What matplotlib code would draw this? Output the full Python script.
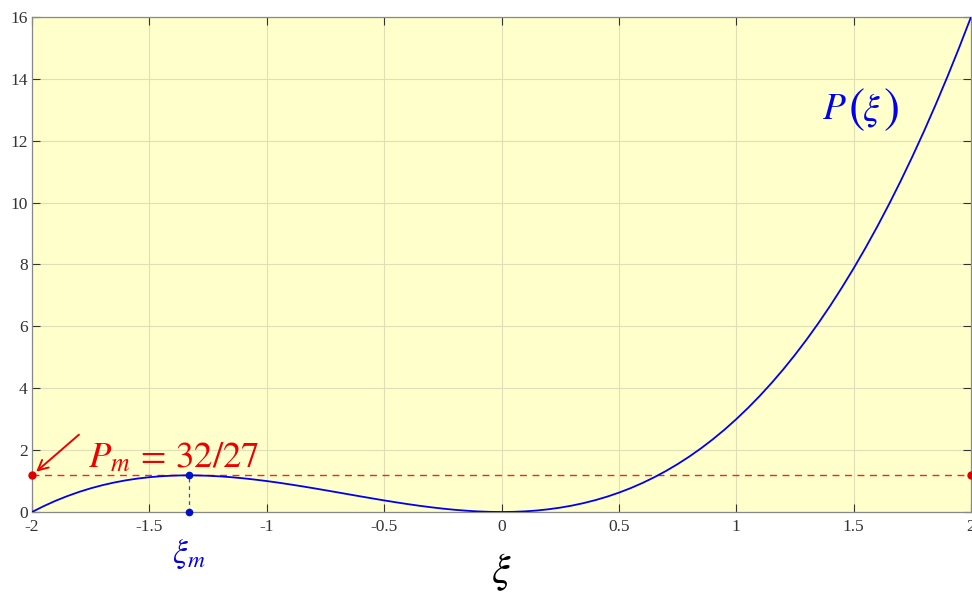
import matplotlib.pyplot as plt

xi = [-2.00, -1.95, -1.90, -1.85, -1.80, -1.75, -1.70, -1.65, -1.60, -1.55,
      -1.50, -1.45, -1.40, -1.35, -1.30, -1.25, -1.20, -1.15, -1.10, -1.05,
      -1.00, -0.95, -0.90, -0.85, -0.80, -0.75, -0.70, -0.65, -0.60, -0.55,
      -0.50, -0.45, -0.40, -0.35, -0.30, -0.25, -0.20, -0.15, -0.10, -0.05,
      0.00, 0.05, 0.10, 0.15, 0.20, 0.25, 0.30, 0.35, 0.40, 0.45,
      0.50, 0.55, 0.60, 0.65, 0.70, 0.75, 0.80, 0.85, 0.90, 0.95,
      1.00, 1.05, 1.10, 1.15, 1.20, 1.25, 1.30, 1.35, 1.40, 1.45,
      1.50, 1.55, 1.60, 1.65, 1.70, 1.75, 1.80, 1.85, 1.90, 1.95, 2.00]
P = [0.000, 0.190, 0.361, 0.513, 0.648, 0.766, 0.867, 0.953, 1.024, 1.081,
     1.125, 1.156, 1.176, 1.185, 1.183, 1.172, 1.152, 1.124, 1.089, 1.047,
     1.000, 0.948, 0.891, 0.831, 0.768, 0.703, 0.637, 0.570, 0.504, 0.439,
     0.375, 0.314, 0.256, 0.202, 0.153, 0.109, 0.072, 0.042, 0.019, 0.005,
     0.000, 0.005, 0.021, 0.048, 0.088, 0.141, 0.207, 0.288, 0.384, 0.496,
     0.625, 0.771, 0.936, 1.120, 1.323, 1.547, 1.792, 2.059, 2.349, 2.662,
     3.000, 3.363, 3.751, 4.166, 4.608, 5.078, 5.577, 6.105, 6.664, 7.254,
     7.875, 8.529, 9.216, 9.937, 10.693, 11.484, 12.312, 13.177, 14.079, 15.020, 16.000]

xi_m = -1.333
P_m = 1.185
x_ticks = [-2, -1.5, -1, -0.5, 0, 0.5, 1, 1.5, 2]
x_tick_labels = ['-2', '-1.5', '-1', '-0.5', '0', '0.5', '1', '1.5', '2']
y_ticks = [0, 2, 4, 6, 8, 10, 12, 14, 16]

plt.rcParams['font.family'] = 'Liberation Serif'
plt.rcParams['mathtext.fontset'] = 'stix'

fig = plt.figure(figsize=(9.72, 5.95), dpi=100)
ax = fig.add_axes([32 / 972, 83 / 595, 939 / 972, 495 / 595])
ax.set_facecolor('#FFFFCC')

ax.plot(xi, P, color='#0000EE', lw=1.3, zorder=3)

# horizontal max level
ax.plot([-2, 2], [P_m, P_m], color='#FF2020', lw=1.0, ls=(0, (5, 4)), zorder=2)
ax.plot([-2, 2], [P_m, P_m], 'o', color='#DD0000', ms=5, clip_on=False, zorder=4)

# vertical marker at xi_m
ax.plot([xi_m, xi_m], [0, P_m], color='#3050C0', lw=0.9, ls=(0, (3, 3)), zorder=2)
ax.plot([xi_m, xi_m], [0, P_m], 'o', color='#0010CC', ms=4.5, clip_on=False, zorder=4)

ax.set_xlim(-2, 2)
ax.set_ylim(0, 16)
ax.set_xticks(x_ticks)
ax.set_xticklabels(x_tick_labels)
ax.set_yticks(y_ticks)
ax.grid(True, color='#DEDEB8', lw=0.8)
ax.set_axisbelow(True)
ax.tick_params(direction='in', length=6, colors='#333333', labelsize=12.5,
               top=True, right=True, pad=5)
ax.tick_params(axis='y', pad=3)
for s in ax.spines.values():
    s.set_color('#888888')
    s.set_linewidth(0.9)

ax.text(-1.76, 1.19, r'$P_m\,=\,32/27$', fontsize=26.5, color='#EE0000',
        ha='left', va='bottom')
ax.annotate('', xy=(-2, P_m), xytext=(-1.80, 2.5),
            arrowprops=dict(arrowstyle='->', color='#EE0000', lw=1.4,
                            mutation_scale=18, shrinkA=0, shrinkB=4))

# P(xi) label with taller parentheses
lx, ly = 1.365, 13.0
ax.annotate(r'$P$', xy=(lx, ly), xytext=(0, 0), textcoords='offset points',
            fontsize=27, color='#0000EE', ha='left', va='center')
ax.annotate(r'$($', xy=(lx, ly), xytext=(19, 0), textcoords='offset points',
            fontsize=35, color='#0000EE', ha='left', va='center')
ax.annotate(r'$\xi$', xy=(lx, ly), xytext=(29, 0), textcoords='offset points',
            fontsize=27, color='#0000EE', ha='left', va='center')
ax.annotate(r'$)$', xy=(lx, ly), xytext=(44, 0), textcoords='offset points',
            fontsize=35, color='#0000EE', ha='left', va='center')

ax.text(xi_m, -0.8, r'$\xi_m$', fontsize=24, color='#0000EE',
        ha='center', va='top')
ax.set_xlabel(r'$\xi$', fontsize=30, labelpad=12)

fig.savefig('out.png', dpi=100)
